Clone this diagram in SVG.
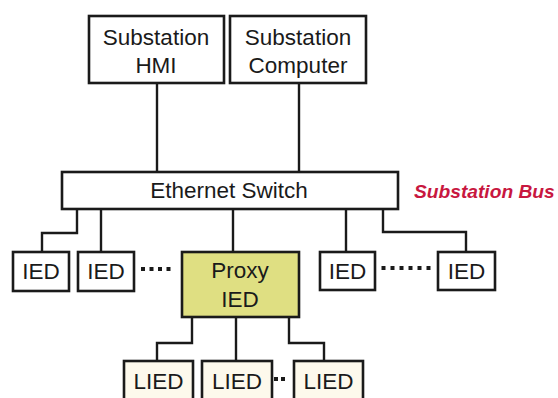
<svg xmlns="http://www.w3.org/2000/svg" width="558" height="398" viewBox="0 0 558 398">
<style>
.box{fill:#fff;stroke:#1a1a1a;stroke-width:2.6}
.proxy{fill:#dfdf82;stroke:#1a1a1a;stroke-width:2.6}
.lied{fill:#fdf9ec;stroke:#1a1a1a;stroke-width:2.6}
.t{font-family:"Liberation Sans",Arial,sans-serif;font-size:22.5px;fill:#1a1a1a;text-anchor:middle}
.bus{font-family:"Liberation Sans",Arial,sans-serif;font-size:19.2px;font-weight:bold;font-style:italic;fill:#c8173f}
.c{fill:none;stroke:#1a1a1a;stroke-width:2.4}
.dots{fill:#1a1a1a}
</style>
<rect width="558" height="398" fill="#fff"/>
<g id="connectors">
<path class="c" d="M157 83V172"/>
<path class="c" d="M299 83V172"/>
<path class="c" d="M77 209V233H42V252"/>
<path class="c" d="M101 209V252"/>
<path class="c" d="M233 209V252"/>
<path class="c" d="M346 209V252"/>
<path class="c" d="M383 209V232H466V252"/>
<path class="c" d="M192 317V343H157V361"/>
<path class="c" d="M236 317V361"/>
<path class="c" d="M289 317V343H324V361"/>
</g>
<g id="hmi">
<rect class="box" x="89" y="16" width="135" height="67"/>
<text class="t" x="156" y="45">Substation</text>
<text class="t" x="156" y="73">HMI</text>
</g>
<g id="computer">
<rect class="box" x="230" y="16" width="136" height="67"/>
<text class="t" x="298" y="45">Substation</text>
<text class="t" x="298" y="73">Computer</text>
</g>
<g id="switch">
<rect class="box" x="62" y="172" width="336" height="37"/>
<text class="t" x="229" y="198">Ethernet Switch</text>
</g>
<g id="bus-label">
<text class="bus" x="414" y="198">Substation Bus</text>
</g>
<g id="ied1">
<rect class="box" x="13" y="252" width="56" height="39"/>
<text class="t" x="41" y="279">IED</text>
</g>
<g id="ied2">
<rect class="box" x="78" y="252" width="56" height="39"/>
<text class="t" x="106" y="279">IED</text>
</g>
<g id="proxy">
<rect class="proxy" x="182" y="252" width="117" height="65"/>
<text class="t" x="240" y="278">Proxy</text>
<text class="t" x="240" y="307">IED</text>
</g>
<g id="ied3">
<rect class="box" x="320" y="252" width="55" height="38"/>
<text class="t" x="347.5" y="279">IED</text>
</g>
<g id="ied4">
<rect class="box" x="438" y="252" width="57" height="38"/>
<text class="t" x="466.5" y="279">IED</text>
</g>
<g id="lied1">
<rect class="lied" x="124" y="361" width="69" height="45"/>
<text class="t" x="158.5" y="389">LIED</text>
</g>
<g id="lied2">
<rect class="lied" x="202" y="361" width="70" height="45"/>
<text class="t" x="237" y="389">LIED</text>
</g>
<g id="lied3">
<rect class="lied" x="294" y="361" width="69" height="45"/>
<text class="t" x="328.5" y="389">LIED</text>
</g>
<g id="ellipses" class="dots">
<rect x="141" y="267" width="4" height="4"/>
<rect x="149.5" y="267" width="4" height="4"/>
<rect x="158" y="267" width="4" height="4"/>
<rect x="166.5" y="267" width="4" height="4"/>
<rect x="381.5" y="266" width="4" height="4"/>
<rect x="390.5" y="266" width="4" height="4"/>
<rect x="399.5" y="266" width="4" height="4"/>
<rect x="408.5" y="266" width="4" height="4"/>
<rect x="417.5" y="266" width="4" height="4"/>
<rect x="426.5" y="266" width="4" height="4"/>
<rect x="274" y="377" width="4" height="4"/>
<rect x="281" y="377" width="4" height="4"/>
</g>
</svg>
